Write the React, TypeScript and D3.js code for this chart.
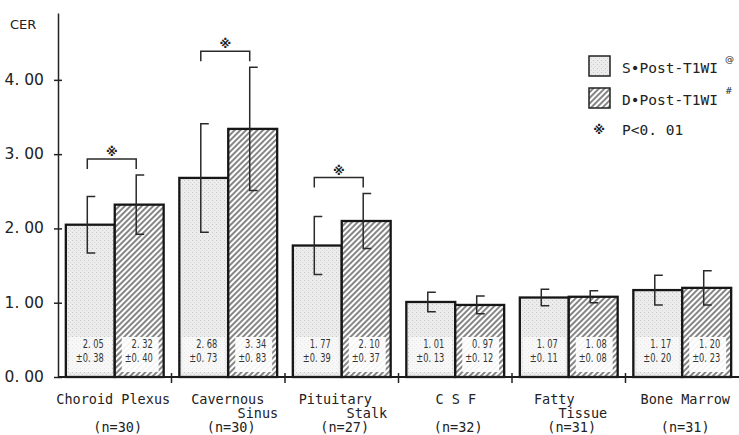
import React, { useEffect, useRef } from 'react';
import * as d3 from 'd3';

// regions measured, and the contrast-enhancement ratio for each sequence
const categories = ['Choroid Plexus', 'Cavernous Sinus', 'Pituitary Stalk', 'CSF', 'Fatty Tissue', 'Bone Marrow'];
const labelLines = [['Choroid Plexus'], ['Cavernous', 'Sinus'], ['Pituitary', 'Stalk'], ['C S F'], ['Fatty', 'Tissue'], ['Bone Marrow']];
const sampleSizes = [30, 30, 27, 32, 31, 31];
const staticMean = [2.05, 2.68, 1.77, 1.01, 1.07, 1.17];
const staticSD = [0.38, 0.73, 0.39, 0.13, 0.11, 0.20];
const dynamicMean = [2.32, 3.34, 2.10, 0.97, 1.08, 1.20];
const dynamicSD = [0.40, 0.83, 0.37, 0.12, 0.08, 0.23];
const significant = [true, true, true, false, false, false];
const seriesKeys = ['S', 'D'];
const seriesNames = ['S•Post-T1WI', 'D•Post-T1WI'];
const seriesMarks = ['@', '#'];
const yTicks = [0, 1, 2, 3, 4];

// layout only (label offsets from the group centre, px)
const line1Shift = [-1.5, -0.5, -6.5, 0.5, -14.5, 3];
const line2End = [0, 50, 45.5, 0, 38.5, 0];

const W = 739, H = 435;
const mono = '"DejaVu Sans Mono", "Liberation Mono", monospace';
const narrow = '"DejaVu Sans", sans-serif';
const starFont = '"DejaVu Sans", "Noto Sans CJK JP", sans-serif';

const fmt = (v: number) => v.toFixed(2).replace('.', '. ');

function Chart() {
    const ref = useRef<SVGSVGElement>(null);

    useEffect(() => {
        const svg = d3.select(ref.current);
        svg.selectAll('*').remove();

        const defs = svg.append('defs');
        // light stipple for static bars
        const stip = defs.append('pattern').attr('id', 'stipple')
            .attr('patternUnits', 'userSpaceOnUse').attr('width', 4).attr('height', 4);
        stip.append('rect').attr('width', 4).attr('height', 4).attr('fill', '#ececec');
        stip.append('rect').attr('x', 0).attr('y', 0).attr('width', 1).attr('height', 1).attr('fill', '#c6c6c6');
        stip.append('rect').attr('x', 2).attr('y', 2).attr('width', 1).attr('height', 1).attr('fill', '#d4d4d4');
        // diagonal hatching for dynamic bars
        const hatch = defs.append('pattern').attr('id', 'hatch')
            .attr('patternUnits', 'userSpaceOnUse').attr('width', 4).attr('height', 4)
            .attr('patternTransform', 'rotate(45)');
        hatch.append('rect').attr('width', 4).attr('height', 4).attr('fill', '#fff');
        hatch.append('line').attr('x1', 2).attr('y1', 0).attr('x2', 2).attr('y2', 4)
            .attr('stroke', '#444').attr('stroke-width', 1.3);
        const fills = ['url(#stipple)', 'url(#hatch)'];

        const x0 = d3.scaleBand().domain(categories).range([58, W]);
        const x1 = d3.scaleBand().domain(seriesKeys).range([0, x0.bandwidth()])
            .paddingInner(0).paddingOuter(0.16);
        const y = d3.scaleLinear().domain([0, 4.9]).range([377, 13]);

        const means = [staticMean, dynamicMean];
        const sds = [staticSD, dynamicSD];

        // y axis
        const yAxis = d3.axisLeft(y).tickValues(yTicks).tickSize(4).tickPadding(10)
            .tickFormat((d) => fmt(+d)).tickSizeOuter(0);
        const ya = svg.append('g').attr('transform', 'translate(58,0)').call(yAxis);
        ya.select('.domain').attr('stroke', '#222').attr('stroke-width', 1.5);
        ya.selectAll('.tick line').attr('x1', 4).attr('x2', -4).attr('stroke', '#222').attr('stroke-width', 1.5);
        ya.selectAll('.tick text').attr('fill', '#222').style('font-family', narrow)
            .style('font-size', '15.5px').attr('dy', '0.28em');

        svg.append('text').attr('x', 10).attr('y', 29).text('CER')
            .attr('fill', '#222').style('font-family', narrow).style('font-size', '13px');

        // bars
        categories.forEach((c, i) => {
            seriesKeys.forEach((s, j) => {
                const bx = x0(c)! + x1(s)!;
                const bw = x1.bandwidth();
                const yt = y(means[j][i]);
                svg.append('rect')
                    .attr('x', bx).attr('y', yt)
                    .attr('width', bw).attr('height', y(0) - yt)
                    .attr('fill', fills[j])
                    .attr('stroke', '#161616').attr('stroke-width', 2.3);
            });
        });

        // value boxes at the bottom of each bar
        categories.forEach((c, i) => {
            seriesKeys.forEach((s, j) => {
                const bx = x0(c)! + x1(s)!;
                const bw = x1.bandwidth();
                svg.append('rect')
                    .attr('x', bx + (j === 0 ? 3 : 7)).attr('y', y(0) - 40)
                    .attr('width', bw - (j === 0 ? 6 : 12)).attr('height', 35)
                    .attr('fill', '#fff').attr('opacity', j === 0 ? 0.6 : 0.92);
                const tx = bx + bw - 11;
                const rows = [fmt(means[j][i]), '±' + fmt(sds[j][i])];
                rows.forEach((r, k) => {
                    svg.append('text')
                        .attr('transform', `translate(${tx},${y(0) - 29 + k * 14}) scale(0.72,1)`)
                        .attr('text-anchor', 'end').attr('fill', '#333')
                        .style('font-family', narrow).style('font-size', '11.5px')
                        .text(r);
                });
            });
        });

        // error bars, drawn as a line with caps to the right
        const errX = (c: string, s: string) => x0(c)! + x1(s)! + x1.bandwidth() / 2 - 3;
        categories.forEach((c, i) => {
            seriesKeys.forEach((s, j) => {
                const ex = errX(c, s);
                const top = y(means[j][i] + sds[j][i]);
                const bot = y(means[j][i] - sds[j][i]);
                svg.append('path')
                    .attr('d', `M${ex + 8},${top}H${ex}V${bot}H${ex + 8}`)
                    .attr('fill', 'none').attr('stroke', '#2a2a2a').attr('stroke-width', 1.5);
            });
        });

        // significance brackets
        categories.forEach((c, i) => {
            if (!significant[i]) return;
            const xa = errX(c, 'S'), xb = errX(c, 'D');
            const top = Math.min(y(staticMean[i] + staticSD[i]), y(dynamicMean[i] + dynamicSD[i])) - 16;
            svg.append('path')
                .attr('d', `M${xa},${top + 10}V${top}H${xb}V${top + 10}`)
                .attr('fill', 'none').attr('stroke', '#2a2a2a').attr('stroke-width', 1.5);
            svg.append('text').attr('x', (xa + xb) / 2).attr('y', top - 3)
                .attr('text-anchor', 'middle').attr('fill', '#222')
                .style('font-family', starFont).style('font-size', '12px').style('font-weight', 'bold')
                .text('※');
        });

        // x axis
        svg.append('line').attr('x1', 58).attr('x2', W).attr('y1', y(0)).attr('y2', y(0))
            .attr('stroke', '#1c1c1c').attr('stroke-width', 2);
        categories.slice(1).forEach((c) => {
            svg.append('line').attr('x1', x0(c)!).attr('x2', x0(c)!)
                .attr('y1', y(0) - 4).attr('y2', y(0) + 6)
                .attr('stroke', '#222').attr('stroke-width', 1.5);
        });

        // category labels
        const lab = svg.append('g').attr('fill', '#222')
            .style('font-family', mono).style('font-size', '13.5px');
        categories.forEach((c, i) => {
            const cx = x0(c)! + x0.bandwidth() / 2;
            lab.append('text').attr('x', cx + line1Shift[i]).attr('y', 404)
                .attr('text-anchor', 'middle').text(labelLines[i][0]);
            if (labelLines[i][1]) {
                lab.append('text').attr('x', cx + line2End[i]).attr('y', 418)
                    .attr('text-anchor', 'end').text(labelLines[i][1]);
            }
            lab.append('text').attr('x', cx + 3).attr('y', 432)
                .attr('text-anchor', 'middle').text(`(n=${sampleSizes[i]})`);
        });

        // legend
        const leg = svg.append('g').attr('transform', 'translate(589,56)');
        seriesNames.forEach((n, j) => {
            leg.append('rect').attr('x', 0).attr('y', j * 32).attr('width', 21).attr('height', 20)
                .attr('fill', fills[j]).attr('stroke', '#222').attr('stroke-width', 1.5);
            leg.append('text').attr('x', 33).attr('y', j * 32 + 17).text(n)
                .attr('fill', '#222').style('font-family', mono).style('font-size', '14.5px');
            leg.append('text').attr('x', 136).attr('y', j * 32 + 6).text(seriesMarks[j])
                .attr('fill', '#222').style('font-family', narrow).style('font-size', '9px');
        });
        leg.append('text').attr('x', 10).attr('y', 78).attr('text-anchor', 'middle').text('※')
            .attr('fill', '#222').style('font-family', starFont).style('font-size', '12px').style('font-weight', 'bold');
        leg.append('text').attr('x', 33).attr('y', 79).text('P<0. 01')
            .attr('fill', '#222').style('font-family', mono).style('font-size', '14.5px');
    }, []);

    return (
        <svg ref={ref} width={W} height={H}
            style={{ position: 'absolute', left: 0, top: 0, background: '#fff' }} />
    );
}

export default function App() {
    return <Chart />;
}
